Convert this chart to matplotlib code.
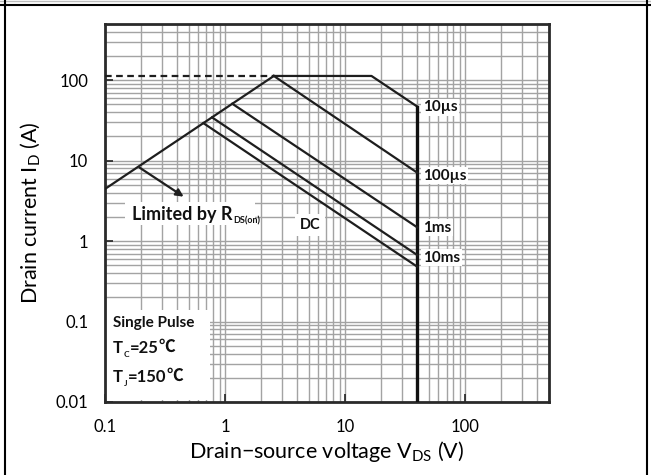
import matplotlib
matplotlib.use("Agg")
import matplotlib.pyplot as plt
from matplotlib.patches import Rectangle
from matplotlib.ticker import FixedLocator, FixedFormatter, NullFormatter, LogLocator
from matplotlib.lines import Line2D

plt.rcParams['font.family'] = ['Lato', 'DejaVu Sans']
plt.rcParams['mathtext.fontset'] = 'custom'
plt.rcParams['mathtext.rm'] = 'Lato'
plt.rcParams['mathtext.bf'] = 'Lato:bold'
plt.rcParams['mathtext.it'] = 'Lato:italic'

# ---- data ----
rds_v = [0.1, 2.55]
rds_i = [4.45, 113.0]
limit_dash_v = [0.1, 2.55]
limit_dash_i = [113.0, 113.0]
v10us = [2.55, 16.6, 40.0]
i10us = [113.0, 113.0, 47.0]
vmax_line_v = [40.0, 40.0]
vmax_line_i = [47.0, 0.01]
v100us = [2.55, 40.0]
i100us = [113.0, 7.08]
v1ms = [1.15, 40.0]
i1ms = [51.0, 1.48]
v10ms = [0.78, 40.0]
i10ms = [34.5, 0.67]
vdc = [0.66, 40.0]
idc = [29.3, 0.48]
curve_labels = ["10µs", "100µs", "1ms", "10ms"]
curve_label_i = [46.0, 6.5, 1.46, 0.62]

xticks = [0.1, 1, 10, 100]
xticklabels = ["0.1", "1", "10", "100"]
yticks = [0.01, 0.1, 1, 10, 100]
yticklabels = ["0.01", "0.1", "1", "10", "100"]

TXT = '#111111'
CJK = ['Noto Sans CJK SC', 'DejaVu Sans']


def chain(ax, x, y, pieces, base_size, zorder=5, **kw):
    """pieces: list of (text, kind) where kind in {'n','sub','sym'}"""
    first = ax.text(x, y, pieces[0][0], ha='left', va='center', fontsize=base_size,
                    fontweight='bold', color=TXT, zorder=zorder, **kw)
    prev = first
    for s, kind in pieces[1:]:
        if kind == 'sub':
            prev = ax.annotate(s, xy=(1, 0), xycoords=prev, xytext=(0.3, -1.2),
                               textcoords='offset points', ha='left', va='bottom',
                               fontsize=base_size * 0.5, fontweight='bold', color=TXT,
                               zorder=zorder)
        elif kind == 'sym':
            prev = ax.annotate(s, xy=(1, 0), xycoords=(prev, first), xytext=(0, 0.3),
                               textcoords='offset points', ha='left', va='bottom',
                               fontsize=base_size, fontweight='bold', color=TXT,
                               family=CJK, zorder=zorder)
        else:
            prev = ax.annotate(s, xy=(1, 0), xycoords=(prev, first), xytext=(0.3, 0),
                               textcoords='offset points', ha='left', va='bottom',
                               fontsize=base_size, fontweight='bold', color=TXT,
                               zorder=zorder)
    return first


fig = plt.figure(figsize=(6.51, 4.75), dpi=100)
ax = fig.add_axes([105/651, 1-402/475, 444/651, 378/475])
ax.set_xscale('log')
ax.set_yscale('log')
ax.set_xlim(0.1, 500)
ax.set_ylim(0.01, 500)

ax.xaxis.set_major_locator(FixedLocator(xticks))
ax.xaxis.set_major_formatter(FixedFormatter(xticklabels))
ax.yaxis.set_major_locator(FixedLocator(yticks))
ax.yaxis.set_major_formatter(FixedFormatter(yticklabels))
ax.xaxis.set_minor_locator(LogLocator(base=10, subs=range(2, 10)))
ax.yaxis.set_minor_locator(LogLocator(base=10, subs=range(2, 10)))
ax.xaxis.set_minor_formatter(NullFormatter())
ax.yaxis.set_minor_formatter(NullFormatter())
ax.tick_params(which='major', direction='in', length=6, width=1.2, color='#222222',
               labelsize=12, pad=12)
ax.tick_params(which='minor', length=0)
ax.grid(True, which='both', color='#a3a3a3', lw=1.0)
ax.set_axisbelow(True)
for s in ax.spines.values():
    s.set_linewidth(2.0)
    s.set_color('#2a2a2a')

lc = '#1e1e1e'
ax.plot(rds_v, rds_i, color=lc, lw=1.6, zorder=3)
ax.plot(limit_dash_v, limit_dash_i, color=lc, lw=1.6, ls=(0, (3, 2)), zorder=3)
ax.plot(v10us, i10us, color=lc, lw=1.6, zorder=3)
ax.plot(vmax_line_v, vmax_line_i, color='#111111', lw=2.4, zorder=3)
ax.plot(v100us, i100us, color=lc, lw=1.6, zorder=3)
ax.plot(v1ms, i1ms, color=lc, lw=1.6, zorder=3)
ax.plot(v10ms, i10ms, color=lc, lw=1.6, zorder=3)
ax.plot(vdc, idc, color=lc, lw=1.6, zorder=3)

for lab, yi in zip(curve_labels, curve_label_i):
    ax.annotate(lab, xy=(40.0, yi), xytext=(4, 0), textcoords='offset points',
                ha='left', va='center', fontsize=11, fontweight='bold', color=TXT,
                bbox=dict(boxstyle='square,pad=0.1', fc='white', ec='none'), zorder=4)

ax.annotate("", xy=(0.452, 3.57), xytext=(0.194, 8.2),
            arrowprops=dict(arrowstyle='-|>', color=lc, lw=1.6, mutation_scale=11,
                            shrinkA=0, shrinkB=0), zorder=4)

# "Limited by R_DS(on)" with white box
ax.add_patch(Rectangle((0.148, 1.59), 1.78 - 0.148, 3.07 - 1.59, fc='white', ec='none', zorder=2.5))
chain(ax, 0.168, 2.12, [("Limited by R", 'n'), ("DS(on)", 'sub')], 13)

ax.text(5.1, 1.59, "DC", ha='center', va='center', fontsize=10.5, fontweight='bold',
        color=TXT, bbox=dict(boxstyle='square,pad=0.3', fc='white', ec='none'), zorder=4)

ax.add_patch(Rectangle((0.1, 0.0105), 0.65, 0.13, fc='white', ec='none', zorder=2.5))
ax.text(0.117, 0.096, "Single Pulse", ha='left', va='center', fontsize=11,
        fontweight='bold', color=TXT, zorder=4)
chain(ax, 0.117, 0.047, [("T", 'n'), ("C", 'sub'), ("=25", 'n'), ("℃", 'sym')], 12)
chain(ax, 0.117, 0.0205, [("T", 'n'), ("J", 'sub'), ("=150", 'n'), ("℃", 'sym')], 12)

ax.set_xlabel(r"Drain−source voltage V$_{\mathrm{DS}}$ (V)", fontsize=15.5, labelpad=3)
ax.set_ylabel(r"Drain current I$_{\mathrm{D}}$ (A)", fontsize=15.5, labelpad=10)

# outer frame
fig.add_artist(Line2D([0, 1], [1-5/475, 1-5/475], transform=fig.transFigure, color='black', lw=1.5))
fig.add_artist(Line2D([0, 1], [1-0.8/475, 1-0.8/475], transform=fig.transFigure, color='#bbbbbb', lw=1.0))
fig.add_artist(Line2D([5/651, 5/651], [0, 1], transform=fig.transFigure, color='black', lw=1.5))
fig.add_artist(Line2D([647/651, 647/651], [0, 1], transform=fig.transFigure, color='black', lw=1.5))

fig.savefig("out.png", dpi=100)
